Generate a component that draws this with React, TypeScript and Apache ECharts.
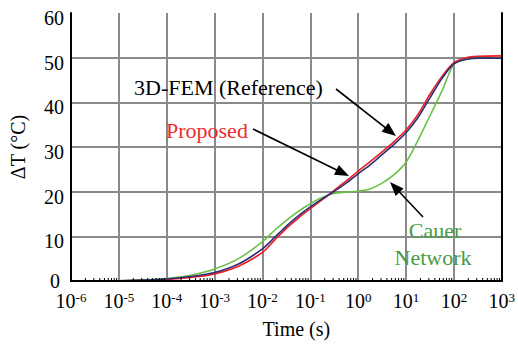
import React, { useEffect, useRef } from 'react';
import * as echarts from 'echarts';

const FONT = 'Liberation Serif, Times New Roman, DejaVu Serif, serif';

// x tick labels: 10^exponent
const xExponents = [-6, -5, -4, -3, -2, -1, 0, 1, 2, 3];
const yTicks = [0, 10, 20, 30, 40, 50, 60];

// sample positions (log10 of time in s)
const logTime = [-6, -5, -4.5, -4, -3.5, -3, -2.5, -2, -1.75, -1.5, -1.25, -1, -0.75, -0.5, -0.25, 0, 0.25, 0.5, 0.75, 1, 1.25, 1.5, 1.75, 2, 2.25, 2.5, 3];
const femRef = [0, 0.05, 0.2, 0.45, 1.0, 1.9, 3.8, 7.2, 9.7, 12.3, 14.6, 16.6, 18.4, 20.1, 21.9, 24.0, 26.0, 28.3, 30.6, 33.2, 36.6, 41.0, 45.3, 48.6, 49.6, 49.9, 49.9];
const proposed = [0, 0.03, 0.15, 0.35, 0.8, 1.6, 3.3, 6.4, 9.1, 11.8, 14.1, 16.2, 18.2, 20.3, 22.4, 24.6, 26.7, 28.9, 31.2, 33.8, 37.3, 41.8, 45.8, 48.9, 50.0, 50.3, 50.4];
const cauer = [0, 0.07, 0.25, 0.55, 1.3, 2.7, 5.0, 8.8, 11.3, 13.6, 15.6, 17.3, 18.7, 19.6, 19.9, 20.1, 20.6, 21.9, 23.8, 26.6, 31.5, 37.0, 42.5, 48.5, 49.7, 49.9, 49.9];

// minor tick multipliers within each decade
const minorMultipliers = [2, 3, 4, 5, 6, 7, 8, 9];

const toSeries = (vals: number[]) => logTime.map((lt, i) => [Math.pow(10, lt), vals[i]]);

function arrow(x1: number, y1: number, x2: number, y2: number) {
  const dx = x2 - x1, dy = y2 - y1;
  const len = Math.sqrt(dx * dx + dy * dy);
  const ux = dx / len, uy = dy / len;
  const head = 14, half = 5.5;
  const bx = x2 - ux * head, by = y2 - uy * head;
  return [
    { type: 'line', shape: { x1, y1, x2: bx + ux * 2, y2: by + uy * 2 }, style: { stroke: '#000', lineWidth: 1.6 }, z: 20 },
    {
      type: 'polygon',
      shape: { points: [[x2, y2], [bx - uy * half, by + ux * half], [bx + uy * half, by - ux * half]] },
      style: { fill: '#000' },
      z: 20,
    },
  ];
}

const txt = (size: number, color: string) => ({ fontFamily: FONT, fontSize: size, color });

export default function App() {
  const ref = useRef<HTMLDivElement>(null);
  useEffect(() => {
    document.body.style.margin = '0';
    const chart = echarts.init(ref.current!, null, { renderer: 'svg' });
    const minorData: number[][] = [];
    for (let k = xExponents[0]; k < xExponents[xExponents.length - 1]; k++) {
      minorMultipliers.forEach((m) => minorData.push([m * Math.pow(10, k), 0]));
    }
    const xMin = Math.pow(10, xExponents[0]);
    const xMax = Math.pow(10, xExponents[xExponents.length - 1]);
    chart.setOption({
      animation: false,
      backgroundColor: '#fff',
      textStyle: { fontFamily: FONT },
      grid: { left: 62, right: 12, top: 13, bottom: 61 },
      xAxis: [
        {
          type: 'log',
          logBase: 10,
          min: xMin,
          max: xMax,
          name: 'Time (s)',
          nameLocation: 'middle',
          nameGap: 38,
          nameTextStyle: { ...txt(20, '#000'), padding: [0, 0, 0, 20] },
          axisLine: { show: true, lineStyle: { color: '#000', width: 2 } },
          axisTick: { show: false },
          splitLine: { show: true, showMinLine: false, showMaxLine: false, lineStyle: { color: '#8a8a8a', width: 2 } },
          axisLabel: {
            margin: 10,
            fontFamily: FONT,
            formatter: (v: number) => `{b|10}{s|${Math.round(Math.log10(v))}}`,
            rich: {
              b: { ...txt(20, '#000'), lineHeight: 20 },
              s: { ...txt(13, '#000'), verticalAlign: 'top', lineHeight: 13 },
            },
          },
        },
        {
          type: 'log', logBase: 10, min: xMin, max: xMax, position: 'top', z: 5,
          axisLine: { show: true, lineStyle: { color: '#000', width: 2 } },
          axisTick: { show: false }, axisLabel: { show: false }, splitLine: { show: false },
        },
      ],
      yAxis: [
        {
          type: 'value',
          min: yTicks[0],
          max: yTicks[yTicks.length - 1],
          interval: 10,
          name: 'ΔT (°C)',
          nameLocation: 'middle',
          nameGap: 43,
          nameRotate: 90,
          nameTextStyle: txt(20, '#000'),
          axisLine: { show: true, lineStyle: { color: '#000', width: 2 } },
          axisTick: { show: false },
          splitLine: { show: true, showMinLine: false, showMaxLine: false, lineStyle: { color: '#8a8a8a', width: 2 } },
          axisLabel: {
            margin: 7,
            fontFamily: FONT,
            formatter: (v: number) => (v === 0 ? `{z|${v}}` : `{n|${v}}`),
            rich: {
              n: { ...txt(20, '#000'), padding: [10, 0, 0, 0] },
              z: { ...txt(20, '#000'), padding: [0, 4, 0, 0] },
            },
          },
        },
        {
          type: 'value', min: 0, max: 60, interval: 10, position: 'right', z: 5,
          axisLine: { show: true, lineStyle: { color: '#000', width: 2 } },
          axisTick: { show: false }, axisLabel: { show: false }, splitLine: { show: false },
        },
      ],
      series: [
        {
          type: 'custom',
          xAxisIndex: 0, yAxisIndex: 0,
          data: minorData,
          encode: { x: 0, y: 1 },
          silent: true,
          z: 4,
          renderItem: (params: any, api: any) => {
            const p = api.coord([api.value(0), 0]);
            return { type: 'line', shape: { x1: p[0], y1: p[1], x2: p[0], y2: p[1] - 3 }, style: { stroke: '#000', lineWidth: 1 } };
          },
        },
        { name: 'Cauer Network', type: 'line', data: toSeries(cauer), smooth: 0.3, showSymbol: false, lineStyle: { color: '#6cbf48', width: 1.6 }, z: 3 },
        { name: 'Proposed', type: 'line', data: toSeries(proposed), smooth: 0.3, showSymbol: false, lineStyle: { color: '#ee1c25', width: 1.6 }, z: 3 },
        { name: '3D-FEM (Reference)', type: 'line', data: toSeries(femRef), smooth: 0.3, showSymbol: false, lineStyle: { color: '#2e2f72', width: 1.6 }, z: 3 },
      ],
      graphic: [
        { type: 'text', left: 134, top: 76, z: 20, style: { text: '3D-FEM (Reference)', font: `22px ${FONT}`, fill: '#000' } },
        { type: 'text', left: 166, top: 119, z: 20, style: { text: 'Proposed', font: `22px ${FONT}`, fill: '#ee2a2e' } },
        { type: 'text', x: 435, y: 230, z: 20, style: { text: 'Cauer', font: `22px ${FONT}`, fill: '#479c47', align: 'center', verticalAlign: 'middle' } },
        { type: 'text', x: 433, y: 257, z: 20, style: { text: 'Network', font: `22px ${FONT}`, fill: '#479c47', align: 'center', verticalAlign: 'middle' } },
        ...arrow(336, 89, 396, 136),
        ...arrow(253, 129, 349, 176),
        ...arrow(423, 217, 390, 182),
      ],
    });
    return () => chart.dispose();
  }, []);
  return <div ref={ref} style={{ width: 518, height: 344, fontFamily: FONT }} />;
}
